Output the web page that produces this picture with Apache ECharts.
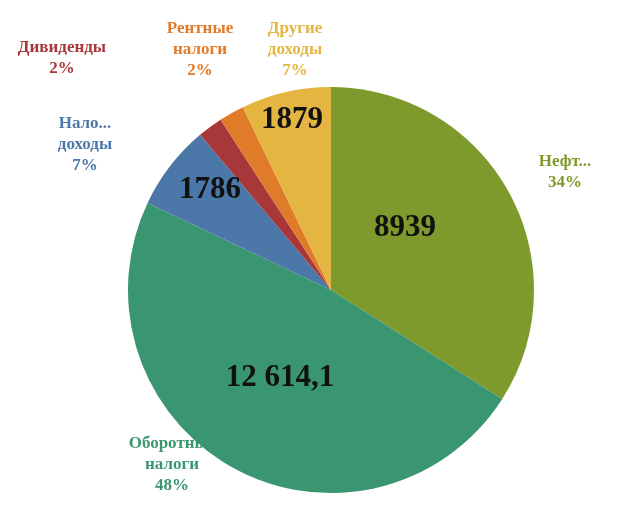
<!DOCTYPE html>
<html><head><meta charset="utf-8">
<script src="https://cdn.jsdelivr.net/npm/echarts@6/dist/echarts.min.js"></script>
<style>html,body{margin:0;background:#fff}#c{width:640px;height:510px}</style>
</head><body><div id="c"></div>
<script>
const categories = ['Нефтегазовые', 'Оборотные\nналоги', 'Налоги на\nдоходы', 'Дивиденды', 'Рентные\nналоги', 'Другие\nдоходы'];
const values = [8939, 12614.1, 1786, 526, 526, 1879];
const valueLabels = ['8939', '12 614,1', '1786', '', '', '1879'];
const percents = ['34%', '48%', '7%', '2%', '2%', '7%'];
const colors = ['#7f9a2c', '#3a9670', '#4b77a9', '#a8373a', '#e07b2a', '#e4b540'];

const outerPos = [[565,172],[172,465],[85,145],[62,58],[200,50],[295,50]];
const innerPos = [[405,228],[280,378],[210,190],null,null,[292,120]];

const data = categories.map((c,i)=>({name:c, value:values[i], itemStyle:{color:colors[i]}}));
const chart = echarts.init(document.getElementById('c'));
chart.setOption({
  animation:false,
  series:[
    {type:'pie', center:[331,290], radius:[0,203], startAngle:90, clockwise:true,
     data:data,
     label:{position:'inside', fontFamily:'Liberation Serif', fontWeight:'bold', fontSize:31, color:'#111',
       formatter:p=>valueLabels[p.dataIndex]},
     labelLayout:p=>{const q=innerPos[p.dataIndex]; return q?{x:q[0],y:q[1],align:'center',verticalAlign:'middle'}:{};},
     labelLine:{show:false}},
    {type:'pie', center:[331,290], radius:[0,203], startAngle:90, silent:true, z:3,
     data:data.map((d,i)=>({name:d.name,value:d.value,itemStyle:{color:'rgba(0,0,0,0)'},label:{color:colors[i]}})),
     label:{position:'outside', fontFamily:'Liberation Serif', fontWeight:'bold', fontSize:17, lineHeight:21, align:'center',
       formatter:p=>p.name+'\n'+percents[p.dataIndex]},
     labelLine:{show:false},
     labelLayout:p=>{const q=outerPos[p.dataIndex]; return {x:q[0],y:q[1],align:'center',verticalAlign:'middle'};}
    }
  ]
});
</script></body></html>
